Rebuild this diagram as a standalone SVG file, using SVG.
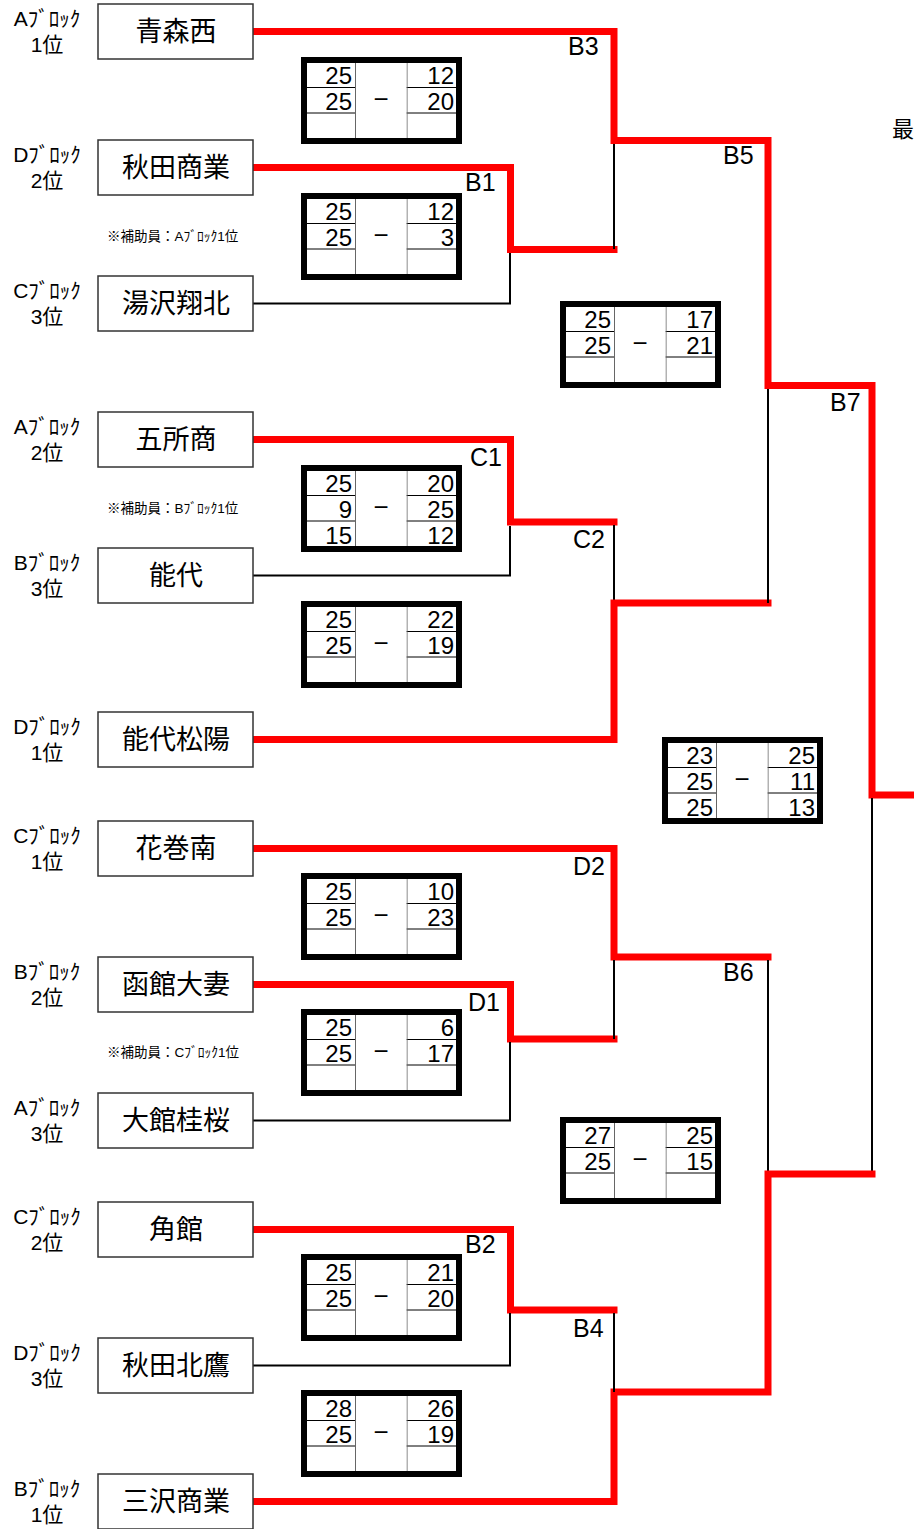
<svg xmlns="http://www.w3.org/2000/svg" width="914" height="1529" viewBox="0 0 914 1529">
<style>
.tb{fill:#fff;stroke:#333;stroke-width:1.5}
.tn{font-family:"Noto Sans CJK JP","Noto Sans CJK SC",sans-serif;font-size:27px;text-anchor:middle;fill:#000}
.bl{font-family:"Liberation Sans","Noto Sans CJK JP",sans-serif;font-size:21px;text-anchor:middle;fill:#000}
.nt{font-family:"Liberation Sans","Noto Sans CJK JP",sans-serif;font-size:13.5px;fill:#000}
.red{fill:none;stroke:#ff0000;stroke-width:7;stroke-linecap:square;stroke-linejoin:miter}
.blk{fill:none;stroke:#000;stroke-width:2}
.ml{font-family:"Liberation Sans",sans-serif;font-size:25px;fill:#000}
.sbo{fill:#fff;stroke:#000;stroke-width:6}
.sgl{stroke:#000;stroke-width:1}
.sgc{stroke:#666;stroke-width:1}
.sn{font-family:"Liberation Sans",sans-serif;font-size:24px;text-anchor:end;fill:#000}
.sd{font-family:"Liberation Sans",sans-serif;font-size:26px;text-anchor:middle;fill:#000}
</style>
<defs>
<g id="sb">
<rect class="sbo" x="3" y="3" width="155" height="81"/>
<line class="sgl" x1="6" y1="30.5" x2="155" y2="30.5"/>
<line class="sgl" x1="6" y1="56" x2="155" y2="56"/>
<line class="sgc" x1="54.5" y1="6" x2="54.5" y2="81"/>
<line class="sgc" x1="106" y1="6" x2="106" y2="81"/>
<rect x="55" y="6" width="50.5" height="75" fill="#fff"/>
<text class="sd" x="80" y="51">−</text>
</g>
</defs>
<g id="connectors">
<polyline class="red" points="253,31.5 614,31.5 614,140.5 768,140.5 768,385.5 872,385.5 872,795 914,795"/>
<polyline class="red" points="253,167.5 510.5,167.5 510.5,249.5 614,249.5"/>
<line class="blk" x1="614" y1="144" x2="614" y2="249"/>
<polyline class="blk" points="253,303.5 510,303.5 510,253"/>
<polyline class="red" points="253,439.5 510.5,439.5 510.5,522 614,522"/>
<polyline class="blk" points="253,575.5 510,575.5 510,526"/>
<line class="blk" x1="614" y1="525" x2="614" y2="603"/>
<polyline class="red" points="253,739.5 614,739.5 614,603 768,603"/>
<line class="blk" x1="768" y1="389" x2="768" y2="603"/>
<polyline class="red" points="253,848.5 614,848.5 614,957 768,957"/>
<polyline class="red" points="253,984.5 510.5,984.5 510.5,1039 614,1039"/>
<line class="blk" x1="614" y1="960" x2="614" y2="1039"/>
<polyline class="blk" points="253,1120.5 510,1120.5 510,1042"/>
<line class="blk" x1="768" y1="960" x2="768" y2="1174"/>
<line class="blk" x1="872" y1="798" x2="872" y2="1174"/>
<polyline class="red" points="872,1174 768,1174 768,1392 614,1392 614,1501.5 253,1501.5"/>
<polyline class="red" points="253,1229.5 510.5,1229.5 510.5,1310 614,1310"/>
<line class="blk" x1="614" y1="1313" x2="614" y2="1392"/>
<polyline class="blk" points="253,1365.5 510,1365.5 510,1313"/>
</g>
<g id="match-labels">
<text class="ml" x="568" y="55">B3</text>
<text class="ml" x="723" y="164">B5</text>
<text class="ml" x="465" y="191">B1</text>
<text class="ml" x="830" y="411">B7</text>
<text class="ml" x="470" y="466">C1</text>
<text class="ml" x="573" y="548">C2</text>
<text class="ml" x="573" y="875">D2</text>
<text class="ml" x="723" y="981">B6</text>
<text class="ml" x="468" y="1011">D1</text>
<text class="ml" x="465" y="1253">B2</text>
<text class="ml" x="573" y="1337">B4</text>
<text class="tn" x="903" y="137" style="font-size:22px">最</text>
</g>
<g id="team-aomorinishi"><rect class="tb" x="98" y="4" width="155" height="55"/><text class="tn" x="176" y="41">青森西</text><text class="bl" x="47" y="26">Aﾌﾞﾛｯｸ</text><text class="bl" x="47" y="52">1位</text></g>
<g id="team-akitashogyo"><rect class="tb" x="98" y="140" width="155" height="55"/><text class="tn" x="176" y="177">秋田商業</text><text class="bl" x="47" y="162">Dﾌﾞﾛｯｸ</text><text class="bl" x="47" y="188">2位</text></g>
<g id="team-yuzawa"><rect class="tb" x="98" y="276" width="155" height="55"/><text class="tn" x="176" y="313">湯沢翔北</text><text class="bl" x="47" y="298">Cﾌﾞﾛｯｸ</text><text class="bl" x="47" y="324">3位</text></g>
<g id="team-goshosho"><rect class="tb" x="98" y="412" width="155" height="55"/><text class="tn" x="176" y="449">五所商</text><text class="bl" x="47" y="434">Aﾌﾞﾛｯｸ</text><text class="bl" x="47" y="460">2位</text></g>
<g id="team-noshiro"><rect class="tb" x="98" y="548" width="155" height="55"/><text class="tn" x="176" y="585">能代</text><text class="bl" x="47" y="570">Bﾌﾞﾛｯｸ</text><text class="bl" x="47" y="596">3位</text></g>
<g id="team-noshiroshoyo"><rect class="tb" x="98" y="712" width="155" height="55"/><text class="tn" x="176" y="749">能代松陽</text><text class="bl" x="47" y="734">Dﾌﾞﾛｯｸ</text><text class="bl" x="47" y="760">1位</text></g>
<g id="team-hanamakiminami"><rect class="tb" x="98" y="821" width="155" height="55"/><text class="tn" x="176" y="858">花巻南</text><text class="bl" x="47" y="843">Cﾌﾞﾛｯｸ</text><text class="bl" x="47" y="869">1位</text></g>
<g id="team-hakodateotsuma"><rect class="tb" x="98" y="957" width="155" height="55"/><text class="tn" x="176" y="994">函館大妻</text><text class="bl" x="47" y="979">Bﾌﾞﾛｯｸ</text><text class="bl" x="47" y="1005">2位</text></g>
<g id="team-odatekeio"><rect class="tb" x="98" y="1093" width="155" height="55"/><text class="tn" x="176" y="1130">大館桂桜</text><text class="bl" x="47" y="1115">Aﾌﾞﾛｯｸ</text><text class="bl" x="47" y="1141">3位</text></g>
<g id="team-kakunodate"><rect class="tb" x="98" y="1202" width="155" height="55"/><text class="tn" x="176" y="1239">角館</text><text class="bl" x="47" y="1224">Cﾌﾞﾛｯｸ</text><text class="bl" x="47" y="1250">2位</text></g>
<g id="team-akitahokuyo"><rect class="tb" x="98" y="1338" width="155" height="55"/><text class="tn" x="176" y="1375">秋田北鷹</text><text class="bl" x="47" y="1360">Dﾌﾞﾛｯｸ</text><text class="bl" x="47" y="1386">3位</text></g>
<g id="team-misawashogyo"><rect class="tb" x="98" y="1474" width="155" height="55"/><text class="tn" x="176" y="1511">三沢商業</text><text class="bl" x="47" y="1496">Bﾌﾞﾛｯｸ</text><text class="bl" x="47" y="1522">1位</text></g>
<g id="notes">
<text class="nt" x="107" y="241">※補助員：Aﾌﾞﾛｯｸ1位</text>
<text class="nt" x="107" y="513">※補助員：Bﾌﾞﾛｯｸ1位</text>
<text class="nt" x="107" y="1057">※補助員：Cﾌﾞﾛｯｸ1位</text>
</g>
<g id="score-B3" transform="translate(301,57)"><use href="#sb"/><text class="sn" x="51" y="27">25</text><text class="sn" x="51" y="53">25</text><text class="sn" x="153" y="27">12</text><text class="sn" x="153" y="53">20</text></g>
<g id="score-B1" transform="translate(301,193)"><use href="#sb"/><text class="sn" x="51" y="27">25</text><text class="sn" x="51" y="53">25</text><text class="sn" x="153" y="27">12</text><text class="sn" x="153" y="53">3</text></g>
<g id="score-B5" transform="translate(560,301)"><use href="#sb"/><text class="sn" x="51" y="27">25</text><text class="sn" x="51" y="53">25</text><text class="sn" x="153" y="27">17</text><text class="sn" x="153" y="53">21</text></g>
<g id="score-C1" transform="translate(301,465)"><use href="#sb"/><text class="sn" x="51" y="27">25</text><text class="sn" x="51" y="53">9</text><text class="sn" x="51" y="79">15</text><text class="sn" x="153" y="27">20</text><text class="sn" x="153" y="53">25</text><text class="sn" x="153" y="79">12</text></g>
<g id="score-C2" transform="translate(301,601)"><use href="#sb"/><text class="sn" x="51" y="27">25</text><text class="sn" x="51" y="53">25</text><text class="sn" x="153" y="27">22</text><text class="sn" x="153" y="53">19</text></g>
<g id="score-B7" transform="translate(662,737)"><use href="#sb"/><text class="sn" x="51" y="27">23</text><text class="sn" x="51" y="53">25</text><text class="sn" x="51" y="79">25</text><text class="sn" x="153" y="27">25</text><text class="sn" x="153" y="53">11</text><text class="sn" x="153" y="79">13</text></g>
<g id="score-D2" transform="translate(301,873)"><use href="#sb"/><text class="sn" x="51" y="27">25</text><text class="sn" x="51" y="53">25</text><text class="sn" x="153" y="27">10</text><text class="sn" x="153" y="53">23</text></g>
<g id="score-D1" transform="translate(301,1009)"><use href="#sb"/><text class="sn" x="51" y="27">25</text><text class="sn" x="51" y="53">25</text><text class="sn" x="153" y="27">6</text><text class="sn" x="153" y="53">17</text></g>
<g id="score-B6" transform="translate(560,1117)"><use href="#sb"/><text class="sn" x="51" y="27">27</text><text class="sn" x="51" y="53">25</text><text class="sn" x="153" y="27">25</text><text class="sn" x="153" y="53">15</text></g>
<g id="score-B2" transform="translate(301,1254)"><use href="#sb"/><text class="sn" x="51" y="27">25</text><text class="sn" x="51" y="53">25</text><text class="sn" x="153" y="27">21</text><text class="sn" x="153" y="53">20</text></g>
<g id="score-B4" transform="translate(301,1390)"><use href="#sb"/><text class="sn" x="51" y="27">28</text><text class="sn" x="51" y="53">25</text><text class="sn" x="153" y="27">26</text><text class="sn" x="153" y="53">19</text></g>
</svg>
